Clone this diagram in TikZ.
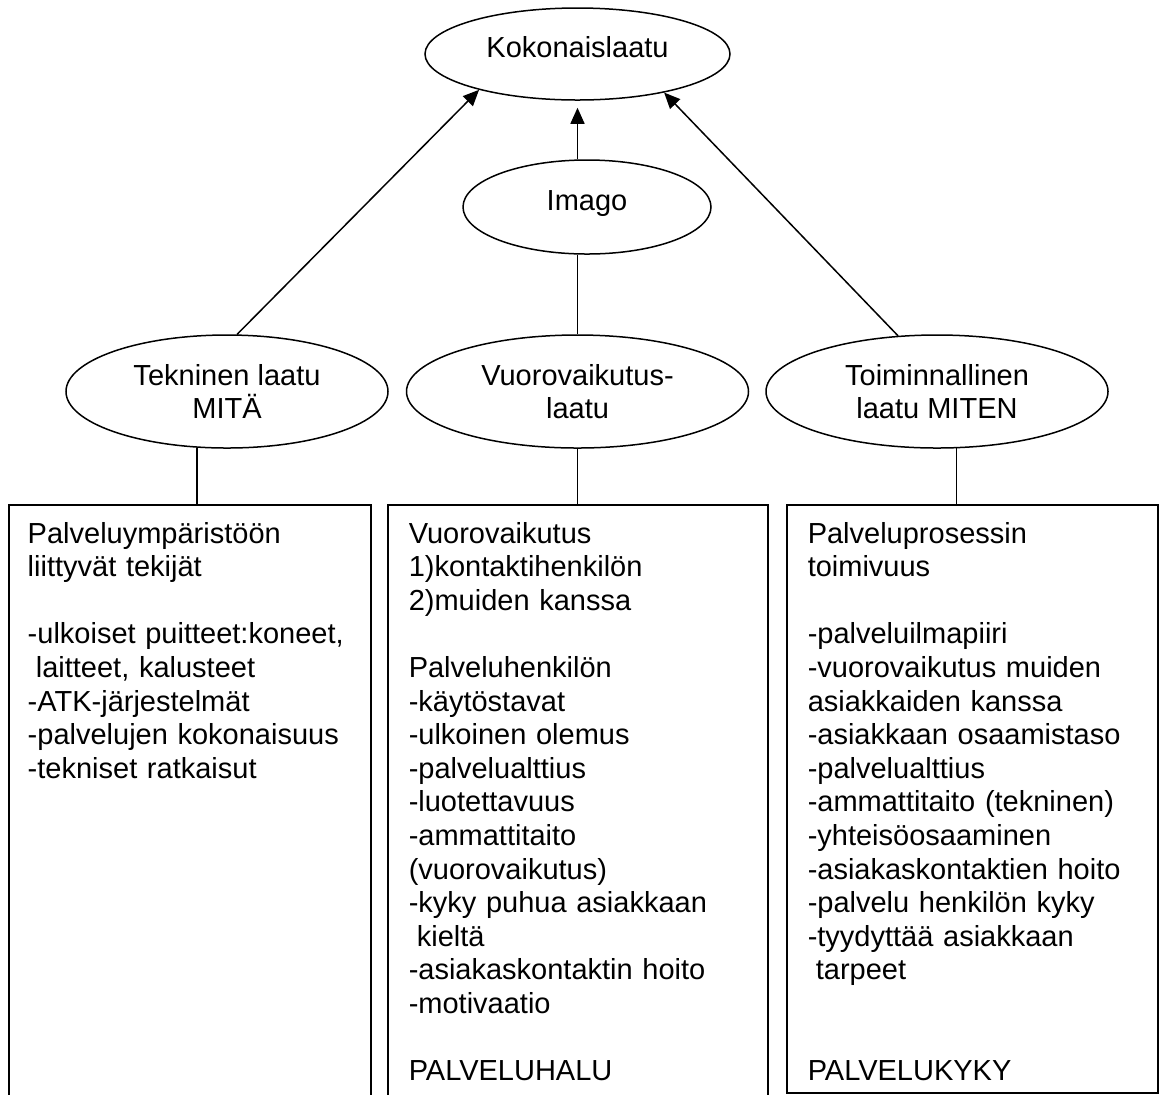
\documentclass[tikz,border=0pt]{standalone}
\usepackage{fontspec}
\setmainfont{Liberation Sans}
\usetikzlibrary{shapes.geometric,arrows.meta}

\tikzset{
  laatu/.style={draw, ellipse, inner sep=0pt, align=center},
  laatuyksi/.style={laatu, text height=10.5pt, text depth=7pt},
  laatikko/.style={draw, rectangle, inner sep=0pt, anchor=north west},
  lista/.style={anchor=base west, inner sep=0pt, text width=180pt, align=left},
  nuoli/.style={-{Triangle[length=8pt,width=7pt]}},
}

\begin{document}
\begin{tikzpicture}[x=0.5pt, y=-0.5pt, line width=0.75pt,
    font=\fontsize{14.5}{16.8}\selectfont]
        \useasboundingbox (0,0) rectangle (1160,1094);
        \clip (0,0) rectangle (1160,1094);

        % Ellipses
        \node[laatuyksi, minimum width=152.5pt, minimum height=46pt] (kok) at (577.5,54) {Kokonaislaatu};
        \node[laatuyksi, minimum width=124pt, minimum height=47pt] (img) at (587,207) {Imago};
        \node[laatu, minimum width=161pt, minimum height=56.5pt] (tek) at (227,391.5) {Tekninen laatu\\MITÄ};
        \node[laatu, minimum width=171pt, minimum height=56.5pt] (vuo) at (577.5,391.5) {Vuorovaikutus-\\laatu};
        \node[laatu, minimum width=171pt, minimum height=56.5pt] (toi) at (937,391.5) {Toiminnallinen\\laatu MITEN};

        % Arrows up to the top
        \draw[nuoli, shorten >=3.5pt] (img.north -| kok.south) -- (kok.south);
        \draw[nuoli] (tek.80) -- (kok.200);
        \draw[nuoli] (toi.125) -- (kok.336);
        \draw (img.south -| vuo.north) -- (vuo.north);

        % Boxes
        \node[laatikko, minimum width=181pt, minimum height=305pt] (tbox) at (8,504) {};
        \node[laatikko, minimum width=190pt, minimum height=305pt] (vbox) at (387,504) {};
        \node[laatikko, minimum width=185.5pt, minimum height=294pt] (tobox) at (786,504) {};

        \draw (tek.242) -- (tek.242 |- tbox.north);
        \draw (vuo.south) -- (vuo.south |- vbox.north);
        \draw (toi.289) -- (toi.289 |- tobox.north);

        \node[lista] (tlista) at (27,543) {Palveluympäristöön\\
            liittyvät tekijät\\[16.8pt]
            -ulkoiset puitteet:koneet,\\
            \hspace*{0.28em}laitteet, kalusteet\\
            -ATK-järjestelmät\\
            -palvelujen kokonaisuus\\
            -tekniset ratkaisut};
        \node[lista] (vlista) at (408,543) {Vuorovaikutus\\
            1)kontaktihenkilön\\
            2)muiden kanssa\\[16.8pt]
            Palveluhenkilön\\
            -käytöstavat\\
            -ulkoinen olemus\\
            -palvelualttius\\
            -luotettavuus\\
            -ammattitaito\\
            (vuorovaikutus)\\
            -kyky puhua asiakkaan\\
            \hspace*{0.28em}kieltä\\
            -asiakaskontaktin hoito\\
            -motivaatio\\[16.8pt]
            PALVELUHALU};
        \node[lista] (tolista) at (807,543) {Palveluprosessin\\
            toimivuus\\[16.8pt]
            -palveluilmapiiri\\
            -vuorovaikutus muiden\\
            asiakkaiden kanssa\\
            -asiakkaan osaamistaso\\
            -palvelualttius\\
            -ammattitaito (tekninen)\\
            -yhteisöosaaminen\\
            -asiakaskontaktien hoito\\
            -palvelu henkilön kyky\\
            -tyydyttää asiakkaan\\
            \hspace*{0.28em}tarpeet\\[33.6pt]
            PALVELUKYKY};
    \end{tikzpicture}
\end{document}
